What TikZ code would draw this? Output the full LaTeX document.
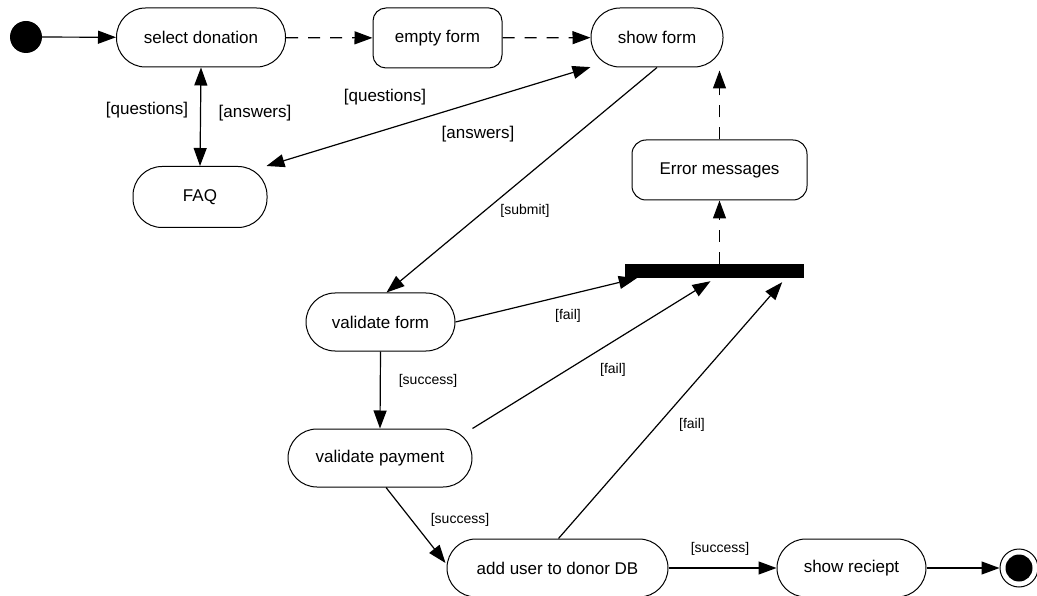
\documentclass[tikz,border=0pt]{standalone}
\usepackage{fontspec}
\setmainfont{Liberation Sans}
\usetikzlibrary{arrows.meta,calc}

\tikzset{
  state/.style={draw, line width=1pt, rounded corners=29pt, inner sep=0pt,
    minimum height=59pt, font=\fontsize{17}{19}\selectfont},
  action/.style={state, rounded corners=13pt},
  guard/.style={inner sep=1pt, font=\fontsize{17}{19}\selectfont},
  smallguard/.style={inner sep=1pt, font=\fontsize{14}{16}\selectfont},
  tip/.style={Triangle[length=18pt,width=13pt]},
  flow/.style={line width=1.2pt, -{Triangle[length=18pt,width=13pt]}},
  biflow/.style={line width=1.2pt, {Triangle[length=18pt,width=13pt]}-{Triangle[length=18pt,width=13pt]}},
  pending/.style={dash pattern=on 12pt off 10pt},
}

\begin{document}
\begin{tikzpicture}[x=1pt, y=-1pt]
\useasboundingbox (0,0) rectangle (1037,596);

% pseudo states
\node[circle, fill=black, minimum size=32pt, inner sep=0pt] (start) at (26,37) {};
\node[circle, draw, line width=1pt, minimum size=38pt, inner sep=0pt] (finish) at (1019,568) {};
\node[circle, fill=black, minimum size=27pt, inner sep=0pt] (finishdot) at (1019,568) {};

% activities
\node[state, minimum width=169pt] (select) at (201,37.5) {select donation};
\node[action, minimum width=129pt, minimum height=60pt] (empty) at (437.5,38) {empty form};
\node[state, minimum width=132pt] (show) at (657,37.5) {show form};
\node[state, minimum width=134pt, minimum height=61pt] (faq) at (200,197) {FAQ};
\node[action, minimum width=175pt, minimum height=60pt, rounded corners=14pt] (err) at (719.5,170) {Error messages};
\node[fill=black, minimum width=179pt, minimum height=14pt, inner sep=0pt] (bar) at (714.5,271) {};
\node[state, minimum width=149pt, minimum height=58pt] (vform) at (380.5,322) {validate form};
\node[state, minimum width=184pt, minimum height=58pt] (vpay) at (380,458) {validate payment};
\node[state, minimum width=221pt, minimum height=58pt] (adduser) at (557.5,568) {add user to donor DB};
\node[state, minimum width=149pt, minimum height=58pt] (receipt) at (851.5,568) {show reciept};

% main flow
\draw[flow] (start) -- (select);
\draw[flow, pending] (select) -- (empty);
\draw[flow, pending] (empty) -- (show);

% help requests
\draw[biflow] (select.south) -- (faq.north);
\node[guard] (q1) at (147,110) {[questions]};
\node[guard] (a1) at (255,113) {[answers]};
\draw[biflow] (faq.25) -- (show.204);
\node[guard] (q2) at (385,97) {[questions]};
\node[guard] (a2) at (478,134) {[answers]};

% submission and validation
\draw[flow] (show.south) -- ($(vform.north)+(6,0)$);
\node[smallguard] (sub) at (525,211) {[submit]};
\draw[flow] (vform.south) -- (vpay.north);
\node[smallguard] (s1) at (428,381) {[success]};
\draw[flow] ($(vpay.south)+(6,0)$) -- ($(adduser.west)+(-1,-5)$);
\node[smallguard] (s2) at (460,520) {[success]};
\draw[flow] (adduser) -- (receipt);
\node[smallguard] (s3) at (720,549) {[success]};
\draw[flow] (receipt) -- (finish);

% failures gathered at the bar
\draw[flow] (vform.east) -- ($(bar.south west)+(12,0)$);
\node[smallguard] (f1) at (568,316) {[fail]};
\draw[flow] (vpay.north east) -- ($(bar.south)+(-4,3)$);
\node[smallguard] (f2) at (613,370) {[fail]};
\draw[flow] ($(adduser.north)+(1,0)$) -- ($(bar.south east)+(-22,4)$);
\node[smallguard] (f3) at (692,425) {[fail]};

% error loop back to the form
\draw[flow, pending] (err.south |- bar.north) -- (err.south);
\draw[flow, pending] (err.north) -- ($(err.north |- show.south)+(0,3)$);
\end{tikzpicture}
\end{document}
